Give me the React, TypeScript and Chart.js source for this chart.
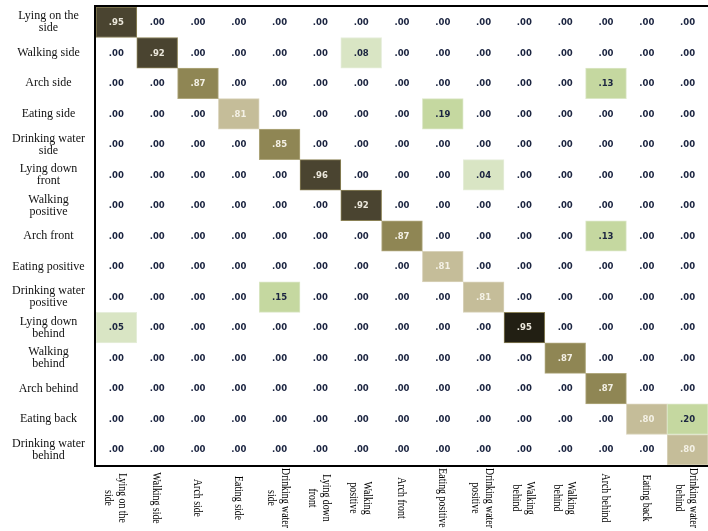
import React, { useEffect, useRef } from "react";
import { Chart, registerables } from "chart.js";

Chart.register(...registerables);

// ---- Data -------------------------------------------------------------
const rowLabels: (string | string[])[] = [
  ["Lying on the", "side"],
  "Walking side",
  "Arch side",
  "Eating side",
  ["Drinking water", "side"],
  ["Lying down", "front"],
  ["Walking", "positive"],
  "Arch front",
  "Eating positive",
  ["Drinking water", "positive"],
  ["Lying down", "behind"],
  ["Walking", "behind"],
  "Arch behind",
  "Eating back",
  ["Drinking water", "behind"],
];

const colLabels: string[][] = [
  ["Lying on the", "side"],
  ["Walking side"],
  ["Arch side"],
  ["Eating side"],
  ["Drinking water", "side"],
  ["Lying down", "front"],
  ["Walking", "positive"],
  ["Arch front"],
  ["Eating positive"],
  ["Drinking water", "positive"],
  ["Walking", "behind"],
  ["Walking", "behind"],
  ["Arch behind"],
  ["Eating back"],
  ["Drinking water", "behind"],
];

const rowLyingSide = [0.95, 0, 0, 0, 0, 0, 0, 0, 0, 0, 0, 0, 0, 0, 0];
const rowWalkingSide = [0, 0.92, 0, 0, 0, 0, 0.08, 0, 0, 0, 0, 0, 0, 0, 0];
const rowArchSide = [0, 0, 0.87, 0, 0, 0, 0, 0, 0, 0, 0, 0, 0.13, 0, 0];
const rowEatingSide = [0, 0, 0, 0.81, 0, 0, 0, 0, 0.19, 0, 0, 0, 0, 0, 0];
const rowDrinkingSide = [0, 0, 0, 0, 0.85, 0, 0, 0, 0, 0, 0, 0, 0, 0, 0];
const rowLyingFront = [0, 0, 0, 0, 0, 0.96, 0, 0, 0, 0.04, 0, 0, 0, 0, 0];
const rowWalkingPositive = [0, 0, 0, 0, 0, 0, 0.92, 0, 0, 0, 0, 0, 0, 0, 0];
const rowArchFront = [0, 0, 0, 0, 0, 0, 0, 0.87, 0, 0, 0, 0, 0.13, 0, 0];
const rowEatingPositive = [0, 0, 0, 0, 0, 0, 0, 0, 0.81, 0, 0, 0, 0, 0, 0];
const rowDrinkingPositive = [0, 0, 0, 0, 0.15, 0, 0, 0, 0, 0.81, 0, 0, 0, 0, 0];
const rowLyingBehind = [0.05, 0, 0, 0, 0, 0, 0, 0, 0, 0, 0.95, 0, 0, 0, 0];
const rowWalkingBehind = [0, 0, 0, 0, 0, 0, 0, 0, 0, 0, 0, 0.87, 0, 0, 0];
const rowArchBehind = [0, 0, 0, 0, 0, 0, 0, 0, 0, 0, 0, 0, 0.87, 0, 0];
const rowEatingBack = [0, 0, 0, 0, 0, 0, 0, 0, 0, 0, 0, 0, 0, 0.8, 0.2];
const rowDrinkingBehind = [0, 0, 0, 0, 0, 0, 0, 0, 0, 0, 0, 0, 0, 0, 0.8];

const values: number[][] = [
  rowLyingSide,
  rowWalkingSide,
  rowArchSide,
  rowEatingSide,
  rowDrinkingSide,
  rowLyingFront,
  rowWalkingPositive,
  rowArchFront,
  rowEatingPositive,
  rowDrinkingPositive,
  rowLyingBehind,
  rowWalkingBehind,
  rowArchBehind,
  rowEatingBack,
  rowDrinkingBehind,
];

// ---- Styles -----------------------------------------------------------
type Shade = { fill: string; edge: string; text: string };
const SHADES: Record<string, Shade> = {
  none: { fill: "rgba(255,255,255,0)", edge: "rgba(255,255,255,0)", text: "#1b2440" },
  pale: { fill: "#d9e5c4", edge: "#e6eedb", text: "#1b2440" },
  green: { fill: "#c5d8a0", edge: "#dbe7c6", text: "#1b2440" },
  khaki: { fill: "#c5bd99", edge: "#d9d3bb", text: "#f4f1e6" },
  olive: { fill: "#8f8654", edge: "#b0a87e", text: "#f4f1e6" },
  dark: { fill: "#4a4430", edge: "#8a8156", text: "#ece8dc" },
  darkest: { fill: "#221f13", edge: "#8a8156", text: "#ece8dc" },
};
const DARKEST_CELL = { row: 10, col: 10 };

function shadeFor(v: number, r: number, c: number): Shade {
  if (v === 0) return SHADES.none;
  if (r === DARKEST_CELL.row && c === DARKEST_CELL.col) return SHADES.darkest;
  if (v < 0.1) return SHADES.pale;
  if (v < 0.5) return SHADES.green;
  if (v < 0.84) return SHADES.khaki;
  if (v < 0.9) return SHADES.olive;
  return SHADES.dark;
}

const fmt = (v: number) => v.toFixed(2).replace(/^0/, "");

const overlayPlugin = {
  id: "matrixOverlay",
  afterDatasetsDraw(chart: any) {
    const { ctx, scales, chartArea } = chart;
    const xs = scales.x;
    const ys = scales.y;
    ctx.save();
    ctx.font = "bold 8.5px 'DejaVu Sans'";
    ctx.textAlign = "center";
    ctx.textBaseline = "middle";
    values.forEach((row, r) => {
      row.forEach((v, c) => {
        const sh = shadeFor(v, r, c);
        ctx.fillStyle = sh.text;
        ctx.fillText(fmt(v), xs.getPixelForValue(c), ys.getPixelForValue(r) + 0.5);
      });
    });
    // frame
    ctx.strokeStyle = "#000";
    ctx.lineWidth = 2;
    ctx.beginPath();
    ctx.moveTo(chart.width, chartArea.top - 1);
    ctx.lineTo(chartArea.left - 1, chartArea.top - 1);
    ctx.lineTo(chartArea.left - 1, chartArea.bottom + 1);
    ctx.lineTo(chart.width, chartArea.bottom + 1);
    ctx.stroke();
    // column labels (rotated clockwise)
    ctx.fillStyle = "#000";
    ctx.font = "12px 'Liberation Serif'";
    const lineH = 14;
    colLabels.forEach((lines, c) => {
      ctx.save();
      ctx.translate(xs.getPixelForValue(c) - 1, chartArea.bottom + 33);
      ctx.rotate(Math.PI / 2);
      ctx.scale(0.82, 1);
      lines.forEach((ln, i) => {
        ctx.fillText(ln, 0, (i - (lines.length - 1) / 2) * lineH);
      });
      ctx.restore();
    });
    ctx.restore();
  },
};

export default function App() {
  const ref = useRef<HTMLCanvasElement | null>(null);
  useEffect(() => {
    document.body.style.margin = "0";
    if (!ref.current) return;
    const datasets = values.map((row, r) => ({
      label: Array.isArray(rowLabels[r]) ? (rowLabels[r] as string[]).join(" ") : (rowLabels[r] as string),
      data: row.map(() => [r - 0.5, r + 0.5] as [number, number]),
      backgroundColor: row.map((v, c) => shadeFor(v, r, c).fill),
      borderColor: row.map((v, c) => shadeFor(v, r, c).edge),
      borderWidth: 1,
      borderSkipped: false as const,
      grouped: false,
      barPercentage: 1,
      categoryPercentage: 1,
    }));
    const chart = new Chart(ref.current, {
      type: "bar",
      data: { labels: colLabels.map((l) => l.join(" ")), datasets: datasets as any },
      options: {
        animation: false,
        responsive: false,
        maintainAspectRatio: false,
        layout: { padding: { top: 7, bottom: 66, left: 0, right: 0 } },
        plugins: { legend: { display: false }, tooltip: { enabled: false } },
        scales: {
          x: { type: "category", display: false, offset: true },
          y: {
            type: "linear",
            reverse: true,
            min: -0.5,
            max: 14.5,
            afterBuildTicks: (axis: any) => {
              axis.ticks = rowLabels.map((_, i) => ({ value: i }));
            },
            afterFit: (axis: any) => {
              axis.width = 96;
              axis.paddingTop = 0;
              axis.paddingBottom = 0;
            },
            grid: { display: false, drawTicks: false },
            border: { display: false },
            ticks: {
              autoSkip: false,
              crossAlign: "center",
              padding: 11,
              color: "#111",
              font: { family: "'Liberation Serif'", size: 12, lineHeight: 1.0 },
              callback: (value: any) => rowLabels[Number(value)] as any,
            },
          },
        },
      },
      plugins: [overlayPlugin],
    });
    return () => chart.destroy();
  }, []);
  return (
    <div style={{ position: "absolute", left: 0, top: 0, width: 708, height: 531, background: "#fff" }}>
      <canvas ref={ref} width={708} height={531} />
    </div>
  );
}
